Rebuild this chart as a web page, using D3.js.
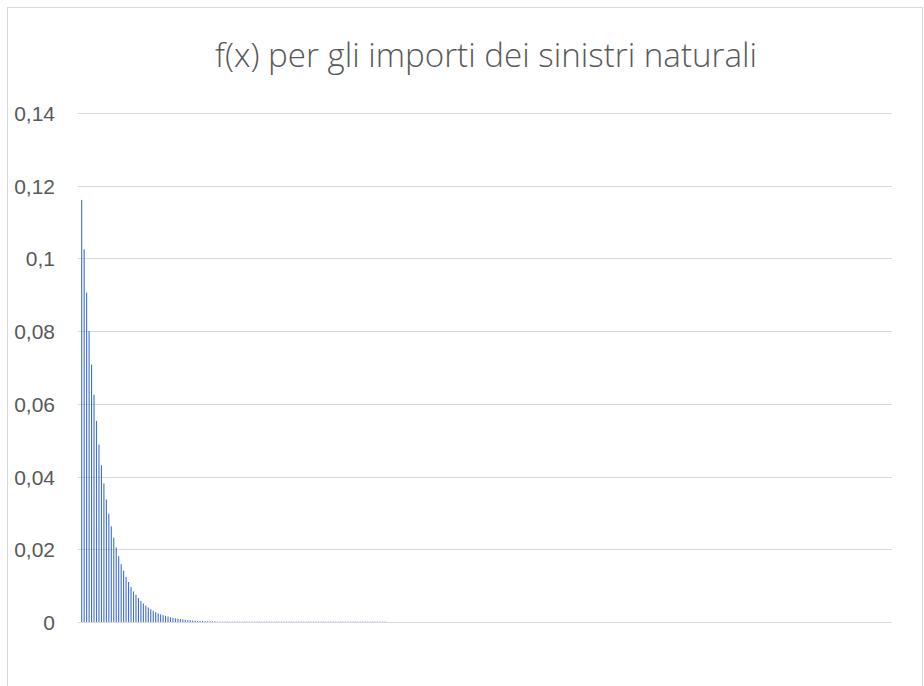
<!DOCTYPE html>
<html>
<head>
<meta charset="utf-8">
<script src="https://cdn.jsdelivr.net/npm/d3@7"></script>
<style>
  html, body { margin: 0; padding: 0; background: #ffffff; }
  svg { display: block; }
</style>
</head>
<body>
<svg id="chart" width="924" height="686"></svg>
<script>
// Chart text
const chartTitle = "f(x) per gli importi dei sinistri naturali";

// Claim-amount classes on the category axis (330 classes)
const categoryCount = 330;
const categories = d3.range(categoryCount);

// Density f(x) for the first classes; classes past the end of this list are empty
const densityValues = [
  0, 0.1161, 0.1025, 0.0906, 0.0800, 0.0708, 0.0625, 0.0553, 0.0488, 0.0431,
  0.0381, 0.0337, 0.0298, 0.0263, 0.0232, 0.0205, 0.0181, 0.0159, 0.0141, 0.0124,
  0.0110, 0.0096, 0.0084, 0.0075, 0.0066, 0.0058, 0.0051, 0.0045, 0.0040, 0.0035,
  0.0031, 0.0027, 0.0024, 0.0021, 0.0019, 0.0017, 0.0015, 0.0013, 0.0011, 0.0010,
  0.0009, 0.0008, 0.0007, 0.0006, 0.0005, 0.0005, 0.0004, 0.0004, 0.0003, 0.0003,
  0.0003, 0.0002, 0.0002, 0.0002, 0.0002, 0.0002, 0.0001, 0.0001, 0.0001, 0.0001,
  0.0001, 0.0001, 0.0001, 0.0001, 0.0001, 0.0001, 0.0001, 0.0001, 0.0001, 0.0001,
  0.0001, 0.0001, 0.0001, 0.0001, 0.0001, 0.0001, 0.0001, 0.0001, 0.0001, 0.0001,
  0.0001, 0.0001, 0.0001, 0.0001, 0.0001, 0.0001, 0.0001, 0.0001, 0.0001, 0.0001,
  0.0001, 0.0001, 0.0001, 0.0001, 0.0001, 0.0001, 0.0001, 0.0001, 0.0001, 0.0001,
  0.0001, 0.0001, 0.0001, 0.0001, 0.0001, 0.0001, 0.0001, 0.0001, 0.0001, 0.0001,
  0.0001, 0.0001, 0.0001, 0.0001, 0.0001, 0.0001, 0.0001, 0.0001, 0.0001, 0.0001,
  0.0001, 0.0001, 0.0001, 0.0001, 0.0001
];

// Value-axis ticks and their Italian-format labels
const yTicks = [0, 0.02, 0.04, 0.06, 0.08, 0.10, 0.12, 0.14];
const yTickLabels = ["0", "0,02", "0,04", "0,06", "0,08", "0,1", "0,12", "0,14"];

const svg = d3.select("#chart");
const W = 924, H = 686;
const plot = { left: 78, right: 892, top: 113, bottom: 622 };

// Outer chart frame
svg.append("rect")
  .attr("x", 7.5).attr("y", 7.5)
  .attr("width", W - 9).attr("height", H + 20)
  .attr("fill", "#ffffff")
  .attr("stroke", "#d9d9d9").attr("stroke-width", 1);

const x = d3.scaleBand()
  .domain(categories)
  .range([plot.left, plot.right])
  .paddingInner(0.55)
  .paddingOuter(0.275);

const y = d3.scaleLinear()
  .domain([0, 0.14])
  .range([plot.bottom, plot.top]);

// Horizontal gridlines (the zero line doubles as the category axis)
const yAxis = d3.axisLeft(y)
  .tickValues(yTicks)
  .tickSize(-(plot.right - plot.left))
  .tickPadding(23)
  .tickFormat((d, i) => yTickLabels[i]);

const gy = svg.append("g")
  .attr("transform", `translate(${plot.left},0)`)
  .call(yAxis);
gy.select(".domain").remove();
gy.selectAll(".tick line")
  .attr("stroke", "#d9d9d9")
  .attr("stroke-width", 1)
  .attr("shape-rendering", "crispEdges");
gy.selectAll(".tick text")
  .attr("fill", "#595959")
  .attr("font-family", "'Liberation Sans', Arial, sans-serif")
  .attr("font-size", "21px")
  .attr("dy", "0.36em");

// Density bars
const bars = densityValues.map((v, i) => ({ cat: categories[i], value: v }));
svg.append("g")
  .selectAll("rect")
  .data(bars)
  .join("rect")
  .attr("x", d => x(d.cat))
  .attr("width", x.bandwidth())
  .attr("y", d => y(d.value))
  .attr("height", d => y(0) - y(d.value))
  .attr("fill", "#4472c4");

// Title
svg.append("text")
  .attr("x", (plot.left + plot.right) / 2 + 1)
  .attr("y", 67)
  .attr("text-anchor", "middle")
  .attr("fill", "#595959")
  .attr("font-family", "'Open Sans', 'Liberation Sans', sans-serif")
  .attr("font-weight", 300)
  .attr("font-size", "33px")
  .attr("textLength", 542)
  .attr("lengthAdjust", "spacingAndGlyphs")
  .text(chartTitle);
</script>
</body>
</html>
